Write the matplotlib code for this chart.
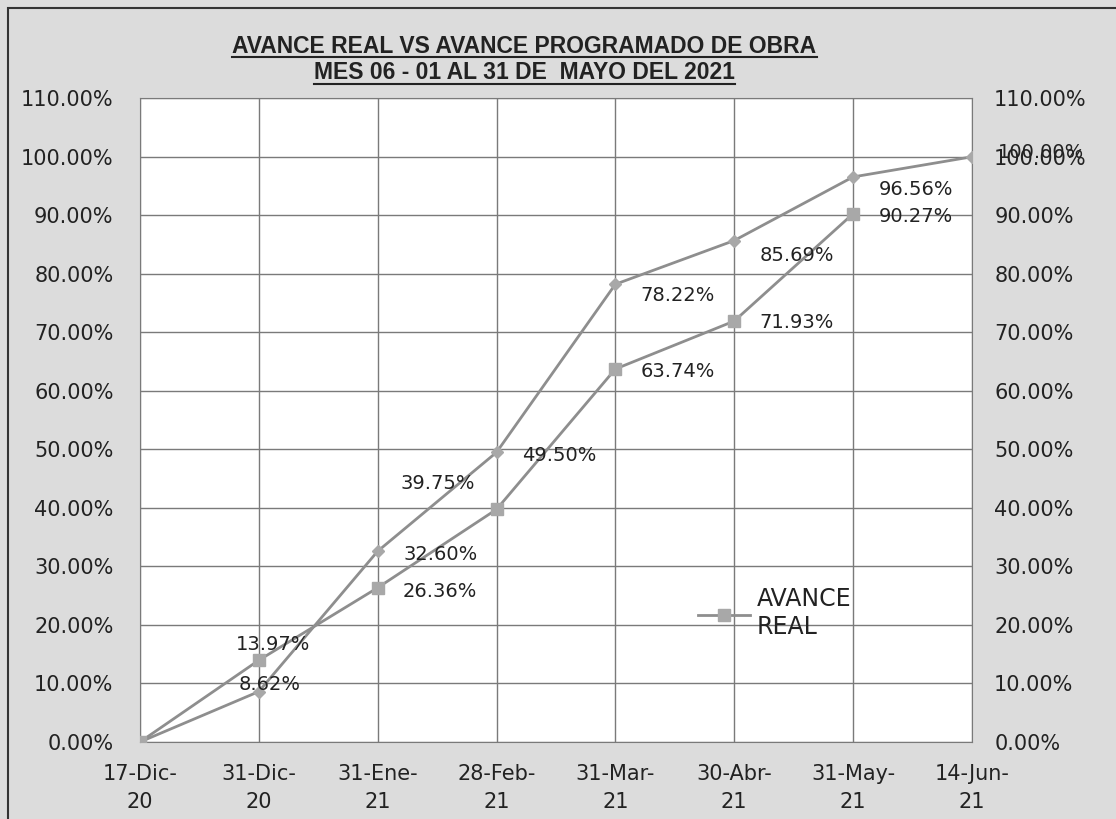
import matplotlib.pyplot as plt
from matplotlib.patches import Rectangle

fechas = ['17-Dic-\n20', '31-Dic-\n20', '31-Ene-\n21', '28-Feb-\n21', '31-Mar-\n21',
          '30-Abr-\n21', '31-May-\n21', '14-Jun-\n21']
avance_programado = [0.00, 8.62, 32.60, 49.50, 78.22, 85.69, 96.56, 100.00]
avance_real = [0.00, 13.97, 26.36, 39.75, 63.74, 71.93, 90.27]
y_ticks = list(range(0, 111, 10))

linea_gris = '#8e8e8e'
marca_gris = '#a8a8a8'

fig = plt.figure(figsize=(11.16, 8.19), dpi=100)
fig.patch.set_facecolor('#dcdcdc')
ax = fig.add_axes([0.1254, 0.094, 0.7455, 0.786])
ax.set_facecolor('white')

x = list(range(len(fechas)))
ax.plot(x, avance_programado, color=linea_gris, linewidth=2, marker='D',
        markersize=6, markerfacecolor=marca_gris, markeredgecolor=marca_gris,
        zorder=3, label='AVANCE PROGRAMADO')
ax.plot(x[:len(avance_real)], avance_real, color=linea_gris, linewidth=2, marker='s',
        markersize=8, markerfacecolor=marca_gris, markeredgecolor=marca_gris,
        zorder=3, label='AVANCE\nREAL')

ax.set_xlim(0, len(fechas) - 1)
ax.set_ylim(0, 110)
ax.set_yticks(y_ticks)
ax.set_yticklabels([f'{v:.2f}%' for v in y_ticks])
ax.set_xticks(x)
ax.set_xticklabels(fechas, linespacing=1.5)
ax.grid(True, color='#7a7a7a', linewidth=1)
ax.set_axisbelow(True)
for s in ax.spines.values():
    s.set_color('#7a7a7a')
ax.tick_params(axis='y', length=0, pad=19, labelsize=15, labelcolor='#222222')
ax.tick_params(axis='x', length=0, pad=16, labelsize=15, labelcolor='#222222')

ax2 = ax.twinx()
ax2.set_ylim(0, 110)
ax2.set_yticks(y_ticks)
ax2.set_yticklabels([f'{v:.2f}%' for v in y_ticks])
ax2.tick_params(axis='y', length=0, pad=16, labelsize=15, labelcolor='#222222')
for s in ax2.spines.values():
    s.set_visible(False)

# etiquetas de datos (offset en puntos)
et_prog = [None, (8, 5), (45, -2), (45, -2), (45, -8), (45, -11), (45, -9), (50, 3)]
et_real = [None, (10, 11), (45, -3), (-42, 19), (45, -2), (45, -1), (45, -2)]
for i, (v, off) in enumerate(zip(avance_programado, et_prog)):
    if off is None:
        continue
    ax.annotate(f'{v:.2f}%', (i, v), xytext=off, textcoords='offset points',
                ha='center', va='center', fontsize=14, color='#222222', zorder=4,
                annotation_clip=False)
for i, (v, off) in enumerate(zip(avance_real, et_real)):
    if off is None:
        continue
    ax.annotate(f'{v:.2f}%', (i, v), xytext=off, textcoords='offset points',
                ha='center', va='center', fontsize=14, color='#222222', zorder=4)

h, l = ax.get_legend_handles_labels()
leg = ax.legend([h[1]], [l[1]], loc='center left', bbox_to_anchor=(0.645, 0.2),
                frameon=False, fontsize=17, handlelength=2.2, handletextpad=0.3,
                labelcolor='#222222')

t1 = fig.text(0.47, 0.943, 'AVANCE REAL VS AVANCE PROGRAMADO DE OBRA', ha='center',
              va='center', fontsize=16.5, fontweight='bold', family='Liberation Sans',
              color='#222222')
t2 = fig.text(0.47, 0.911, 'MES 06 - 01 AL 31 DE  MAYO DEL 2021', ha='center',
              va='center', fontsize=16.5, fontweight='bold', family='Liberation Sans',
              color='#222222')

# subrayado del titulo
fig.canvas.draw()
inv = fig.transFigure.inverted()
for t in (t1, t2):
    bb = t.get_window_extent()
    (x0, y0), (x1, _) = inv.transform([(bb.x0, bb.y0), (bb.x1, bb.y1)])
    fig.lines.append(plt.Line2D([x0, x1], [y0 + 0.001, y0 + 0.001], color='#222222',
                                linewidth=1.5, transform=fig.transFigure))

fig.patches.append(Rectangle((0.007, -0.01), 1.0, 1.0, fill=False, edgecolor='#333333',
                             linewidth=1.5, transform=fig.transFigure))

fig.savefig('out.png', dpi=100, facecolor=fig.get_facecolor())
